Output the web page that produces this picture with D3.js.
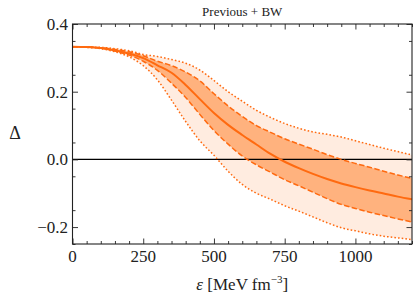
<!DOCTYPE html>
<html>
<head>
<meta charset="utf-8">
<script src="https://cdn.jsdelivr.net/npm/d3@7"></script>
<style>
  body { margin: 0; background: #fff; }
</style>
</head>
<body>
<svg id="chart" width="420" height="299"></svg>
<script>
// energy density grid (MeV fm^-3)
const eps = [0, 50, 100, 150, 200, 250, 300, 350, 400, 450, 500, 550, 600,
             650, 700, 750, 800, 850, 900, 950, 1000, 1050, 1100, 1150, 1200];
// median of Delta
const median = [0.333, 0.332, 0.329, 0.322, 0.313, 0.299, 0.278, 0.256, 0.22, 0.178, 0.137, 0.102, 0.072,
                0.044, 0.016, -0.007, -0.026, -0.043, -0.058, -0.071, -0.082, -0.092, -0.101, -0.11, -0.118];
// 68% band
const lo68 = [0.333, 0.332, 0.328, 0.32, 0.308, 0.29, 0.263, 0.225, 0.183, 0.133, 0.085, 0.045, 0.01,
              -0.016, -0.038, -0.06, -0.078, -0.097, -0.116, -0.133, -0.145, -0.156, -0.166, -0.176, -0.185];
const hi68 = [0.333, 0.332, 0.33, 0.325, 0.318, 0.306, 0.29, 0.277, 0.258, 0.232, 0.194, 0.158, 0.127,
              0.1, 0.08, 0.061, 0.045, 0.03, 0.014, 0.0, -0.012, -0.023, -0.035, -0.046, -0.056];
// 95% band
const lo95 = [0.333, 0.331, 0.327, 0.318, 0.303, 0.277, 0.235, 0.175, 0.112, 0.055, 0.012, -0.035, -0.074,
              -0.1, -0.118, -0.137, -0.153, -0.17, -0.187, -0.202, -0.211, -0.22, -0.227, -0.232, -0.237];
const hi95 = [0.333, 0.332, 0.331, 0.327, 0.321, 0.31, 0.304, 0.295, 0.284, 0.264, 0.233, 0.2, 0.172,
              0.145, 0.124, 0.106, 0.092, 0.081, 0.074, 0.066, 0.055, 0.044, 0.033, 0.023, 0.013];

const xTicks = [0, 250, 500, 750, 1000];
const yTicks = [-0.2, 0.0, 0.2, 0.4];
const title = "Previous + BW";

const margin = { top: 24, right: 8, bottom: 55, left: 72.5 };
const W = 420, H = 299;
const FONT = '"Liberation Serif", "DejaVu Serif", "Times New Roman", serif';
const svg = d3.select('#chart');

const x = d3.scaleLinear().domain([0, 1200]).range([margin.left, W - margin.right]);
const y = d3.scaleLinear().domain([-0.25, 0.4]).range([H - margin.bottom, margin.top]);

const orange = '#ff6a10';
const rows = eps.map((e, i) => ({ e: e, m: median[i], l1: lo68[i], h1: hi68[i], l2: lo95[i], h2: hi95[i] }));

const g = svg.append('g');
g.append('defs').append('clipPath').attr('id', 'clip')
  .append('rect')
  .attr('x', x(0)).attr('y', y(0.4))
  .attr('width', x(1200) - x(0)).attr('height', y(-0.25) - y(0.4));

const plot = g.append('g').attr('clip-path', 'url(#clip)');

const area = (lo, hi) => d3.area()
  .x(d => x(d.e)).y0(d => y(d[lo])).y1(d => y(d[hi]))
  .curve(d3.curveMonotoneX);
const line = key => d3.line()
  .x(d => x(d.e)).y(d => y(d[key]))
  .curve(d3.curveMonotoneX);

plot.append('path').datum(rows).attr('d', area('l2', 'h2')).attr('fill', '#ffece0');
plot.append('path').datum(rows).attr('d', area('l1', 'h1')).attr('fill', '#ffb27e');

// zero line
plot.append('line')
  .attr('x1', x(0)).attr('x2', x(1200))
  .attr('y1', y(0)).attr('y2', y(0))
  .attr('stroke', '#000').attr('stroke-width', 1.1);

['l2', 'h2'].forEach(k => {
  plot.append('path').datum(rows).attr('d', line(k))
    .attr('fill', 'none').attr('stroke', orange)
    .attr('stroke-width', 1.5).attr('stroke-dasharray', '1.6,2.1');
});
['l1', 'h1'].forEach(k => {
  plot.append('path').datum(rows).attr('d', line(k))
    .attr('fill', 'none').attr('stroke', orange)
    .attr('stroke-width', 1.5).attr('stroke-dasharray', '5.5,2.4');
});
plot.append('path').datum(rows).attr('d', line('m'))
  .attr('fill', 'none').attr('stroke', orange).attr('stroke-width', 2);

// axes with inward ticks on all four sides
const xMinor = d3.range(0, 1201, 50).filter(v => v % 250 !== 0);
const yMinor = d3.range(-0.25, 0.4001, 0.05).map(v => +v.toFixed(2)).filter(v => Math.abs(Math.round(v * 10) - v * 10) > 1e-6);

function ticks(sel, axis, vals, size) {
  sel.call(axis.tickValues(vals).tickSize(size).tickFormat(''));
  sel.select('.domain').remove();
  sel.selectAll('.tick line').attr('stroke', '#222').attr('stroke-width', 0.9);
}

const axBottom = g.append('g').attr('transform', `translate(0,${y(-0.25)})`);
ticks(axBottom.append('g'), d3.axisTop(x), xTicks, 5.5);
ticks(axBottom.append('g'), d3.axisTop(x), xMinor, 3);
const axTop = g.append('g').attr('transform', `translate(0,${y(0.4)})`);
ticks(axTop.append('g'), d3.axisBottom(x), xTicks, 5.5);
ticks(axTop.append('g'), d3.axisBottom(x), xMinor, 3);
const axLeft = g.append('g').attr('transform', `translate(${x(0)},0)`);
ticks(axLeft.append('g'), d3.axisRight(y), yTicks, 5.5);
ticks(axLeft.append('g'), d3.axisRight(y), yMinor, 3);
const axRight = g.append('g').attr('transform', `translate(${x(1200)},0)`);
ticks(axRight.append('g'), d3.axisLeft(y), yTicks, 5.5);
ticks(axRight.append('g'), d3.axisLeft(y), yMinor, 3);

// frame
g.append('rect')
  .attr('x', x(0)).attr('y', y(0.4))
  .attr('width', x(1200) - x(0)).attr('height', y(-0.25) - y(0.4))
  .attr('fill', 'none').attr('stroke', '#222').attr('stroke-width', 1.1);

const labels = g.append('g').attr('font-family', FONT).attr('fill', '#222');

// tick labels
const fmtY = v => (v < 0 ? '\u2212' : '') + Math.abs(v).toFixed(1);
labels.selectAll('.xl').data(xTicks).enter().append('text')
  .attr('x', d => x(d)).attr('y', 262)
  .attr('text-anchor', 'middle').attr('font-size', 17)
  .text(d => d);
labels.selectAll('.yl').data(yTicks).enter().append('text')
  .attr('x', 68).attr('y', d => y(d) + 6)
  .attr('text-anchor', 'end').attr('font-size', 17)
  .text(fmtY);

// title and axis labels
labels.append('text').attr('x', (x(0) + x(1200)) / 2).attr('y', 16)
  .attr('text-anchor', 'middle').attr('font-size', 13).text(title);

const xl = labels.append('text').attr('x', (x(0) + x(1200)) / 2).attr('y', 290)
  .attr('text-anchor', 'middle').attr('font-size', 17);
xl.append('tspan').attr('font-style', 'italic').text('\u03b5');
xl.append('tspan').text(' [MeV fm');
xl.append('tspan').attr('font-size', 11).attr('dy', -7).text('\u22123');
xl.append('tspan').attr('dy', 7).text(']');

labels.append('text').attr('x', 15).attr('y', 139)
  .attr('text-anchor', 'middle').attr('font-size', 18).text('\u0394');
</script>
</body>
</html>
